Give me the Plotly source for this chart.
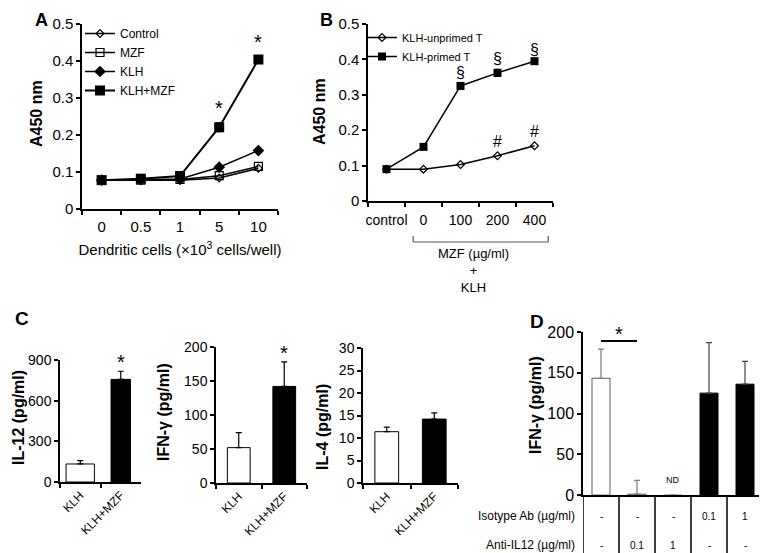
import plotly.graph_objects as go

W, H = 767, 553
OFF = 8  # page body margin offset

# ---------------- data ----------------
# Panel A
a_cells = ["0", "0.5", "1", "5", "10"]
a_control = [0.078, 0.077, 0.078, 0.084, 0.110]
a_mzf = [0.078, 0.078, 0.080, 0.090, 0.115]
a_klh = [0.078, 0.080, 0.081, 0.113, 0.158]
a_klh_err = [0.002, 0.002, 0.002, 0.004, 0.004]
a_klh_mzf = [0.078, 0.082, 0.089, 0.221, 0.404]
a_klh_mzf_err = [0.003, 0.003, 0.004, 0.012, 0.008]

# Panel B
b_cats = ["control", "0", "100", "200", "400"]
b_unprimed = [0.090, 0.090, 0.103, 0.128, 0.156]
b_primed = [0.090, 0.153, 0.325, 0.362, 0.395]
b_primed_err = [0.003, 0.003, 0.008, 0.010, 0.004]

# Panel C
c_groups = ["KLH", "KLH+MZF"]
c_il12 = [133, 757]
c_il12_err = [25, 60]
c_ifng = [52, 142]
c_ifng_err = [22, 36]
c_il4 = [11.4, 14.2]
c_il4_err = [1.0, 1.4]

# Panel D
d_pos_white = [0, 1, 2]
d_pos_black = [3, 4]
d_ifng_white = [143, 1, 0]
d_err_white = [36, 17, 0]
d_ifng_black = [125, 136]
d_err_black = [62, 28]
d_isotype = ["-", "-", "-", "0.1", "1"]
d_anti = ["-", "0.1", "1", "-", "-"]

FONT = "Liberation Sans, Arial, Helvetica, sans-serif"


def px(x):
    return (x - OFF) / W


def py(y):
    return 1 - (y - OFF) / H


fig = go.Figure()

# ---------------- Panel A ----------------
line = dict(color="black", width=1.5)
fig.add_trace(go.Scatter(x=a_cells, y=a_control, name="Control", mode="lines+markers",
                         line=line, marker=dict(symbol="diamond-open", size=6, color="black",
                                                line=dict(width=1.2)),
                         xaxis="x", yaxis="y", legend="legend"))
fig.add_trace(go.Scatter(x=a_cells, y=a_mzf, name="MZF", mode="lines+markers",
                         line=line, marker=dict(symbol="square-open", size=8, color="black",
                                                line=dict(width=1.2)),
                         xaxis="x", yaxis="y", legend="legend"))
fig.add_trace(go.Scatter(x=a_cells, y=a_klh, name="KLH", mode="lines+markers",
                         line=line, marker=dict(symbol="diamond", size=9, color="black"),
                         error_y=dict(type="data", array=a_klh_err, color="black", thickness=1.2, width=3),
                         xaxis="x", yaxis="y", legend="legend"))
fig.add_trace(go.Scatter(x=a_cells, y=a_klh_mzf, name="KLH+MZF", mode="lines+markers",
                         line=dict(color="black", width=2), marker=dict(symbol="square", size=10, color="black"),
                         error_y=dict(type="data", array=a_klh_mzf_err, color="black", thickness=1.2, width=3),
                         xaxis="x", yaxis="y", legend="legend"))

# ---------------- Panel B ----------------
fig.add_trace(go.Scatter(x=b_cats, y=b_unprimed, name="KLH-unprimed T", mode="lines+markers",
                         line=line, marker=dict(symbol="diamond-open", size=6, color="black",
                                                line=dict(width=1.2)),
                         xaxis="x2", yaxis="y2", legend="legend2"))
fig.add_trace(go.Scatter(x=b_cats, y=b_primed, name="KLH-primed T", mode="lines+markers",
                         line=line, marker=dict(symbol="square", size=8, color="black"),
                         error_y=dict(type="data", array=b_primed_err, color="black", thickness=1.2, width=3),
                         xaxis="x2", yaxis="y2", legend="legend2"))

# ---------------- Panel C ----------------
for vals, errs, xa, ya, widths in [(c_il12, c_il12_err, "x3", "y3", [0.7, 0.48]),
                                   (c_ifng, c_ifng_err, "x4", "y4", [0.5, 0.5]),
                                   (c_il4, c_il4_err, "x5", "y5", [0.5, 0.5])]:
    fig.add_trace(go.Bar(x=c_groups, y=vals, width=widths,
                         marker=dict(color=["white", "black"], line=dict(color="black", width=1)),
                         error_y=dict(type="data", array=errs, arrayminus=[0, 0], symmetric=False,
                                      color="black", thickness=1.2, width=3),
                         xaxis=xa, yaxis=ya, showlegend=False))

# ---------------- Panel D ----------------
fig.add_trace(go.Bar(x=d_pos_white, y=d_ifng_white, width=0.5,
                     marker=dict(color="white", line=dict(color="#7a7a7a", width=1.2)),
                     error_y=dict(type="data", array=d_err_white, arrayminus=[0, 0, 0], symmetric=False,
                                  color="#7a7a7a", thickness=1.2, width=3),
                     xaxis="x6", yaxis="y6", showlegend=False))
fig.add_trace(go.Bar(x=d_pos_black, y=d_ifng_black, width=0.5,
                     marker=dict(color="black", line=dict(color="black", width=1)),
                     error_y=dict(type="data", array=d_err_black, arrayminus=[0, 0], symmetric=False,
                                  color="#444444", thickness=1.2, width=3),
                     xaxis="x6", yaxis="y6", showlegend=False))

# ---------------- axes ----------------
base = dict(showline=True, linecolor="black", linewidth=1.5, ticks="outside", ticklen=4,
            tickwidth=1.5, tickcolor="black", showgrid=False, zeroline=False, automargin=False,
            tickfont=dict(size=15, color="black"))

fig.update_layout(
    xaxis=dict(base, domain=[px(82), px(278)], anchor="y", type="category", tickson="boundaries",
               range=[-0.5, 4.5], tickangle=0, ticklabelstandoff=3,
               title=dict(text="Dendritic cells (×10<sup>3</sup> cells/well)", font=dict(size=15), standoff=11)),
    yaxis=dict(base, domain=[py(209), py(24)], anchor="x", range=[0, 0.5], dtick=0.1),
    xaxis2=dict(base, domain=[px(368), px(553)], anchor="y2", type="category", tickson="boundaries",
                range=[-0.5, 4.5], tickangle=0, ticklabelstandoff=5, tickfont=dict(size=14, color="black")),
    yaxis2=dict(base, domain=[py(201), py(24)], anchor="x2", range=[0, 0.5], dtick=0.1),
    xaxis3=dict(base, domain=[px(60), px(141)], anchor="y3", type="category", tickson="boundaries",
                range=[-0.5, 1.5], tickangle=-45, tickfont=dict(size=12, color="black")),
    yaxis3=dict(base, domain=[py(482), py(360)], anchor="x3", range=[0, 900], dtick=300,
                tickfont=dict(size=14, color="black")),
    xaxis4=dict(base, domain=[px(216), px(307)], anchor="y4", type="category", tickson="boundaries",
                range=[-0.5, 1.5], tickangle=-45, tickfont=dict(size=12, color="black")),
    yaxis4=dict(base, domain=[py(483), py(347)], anchor="x4", range=[0, 200], dtick=50,
                tickfont=dict(size=14, color="black")),
    xaxis5=dict(base, domain=[px(363), px(458)], anchor="y5", type="category", tickson="boundaries",
                range=[-0.5, 1.5], tickangle=-45, tickfont=dict(size=12, color="black")),
    yaxis5=dict(base, domain=[py(483), py(348)], anchor="x5", range=[0, 30], dtick=5,
                tickfont=dict(size=14, color="black")),
    xaxis6=dict(showline=True, linecolor="black", linewidth=1.5, domain=[px(583), px(763)], anchor="y6",
                range=[-0.5, 4.5], showticklabels=False, ticks="", showgrid=False, zeroline=False,
                automargin=False),
    yaxis6=dict(base, domain=[py(495), py(332)], anchor="x6", range=[0, 200], dtick=50,
                tickfont=dict(size=16, color="black")),
)

fig.update_layout(
    width=W, height=H, margin=dict(l=0, r=0, t=0, b=0, autoexpand=False),
    paper_bgcolor="white", plot_bgcolor="white",
    font=dict(family=FONT, color="black", size=13),
    barmode="overlay",
    legend=dict(x=px(80), y=py(19), xanchor="left", yanchor="top", font=dict(size=12),
                bgcolor="rgba(0,0,0,0)", tracegroupgap=0, itemwidth=30),
    legend2=dict(x=px(362), y=py(23), xanchor="left", yanchor="top", font=dict(size=11),
                 bgcolor="rgba(0,0,0,0)", tracegroupgap=0, itemwidth=30),
)

ann = []


def pa(text, x, y, size, **kw):
    d = dict(text=text, x=px(x), y=py(y), xref="paper", yref="paper", showarrow=False,
             xanchor="center", yanchor="middle", font=dict(size=size))
    d.update(kw)
    ann.append(d)


# panel letters (A, B hug the top edge)
for t, x in [("A", 41), ("B", 326)]:
    pa(f"<b>{t}</b>", x, OFF, 18, yanchor="top")
for t, x, y in [("C", 22, 318), ("D", 537, 321)]:
    pa(f"<b>{t}</b>", x, y, 19)
# y titles
for t, x, y in [("A450 nm", 36, 113), ("A450 nm", 320, 112),
                ("IL-12 (pg/ml)", 18, 418), ("IFN-γ (pg/ml)", 163, 412),
                ("IL-4 (pg/ml)", 322, 427), ("IFN-γ (pg/ml)", 535, 405)]:
    pa(f"<b>{t}</b>", x, y, 16, textangle=-90)

# significance marks, A
for i in [3, 4]:
    ann.append(dict(text="*", x=i, y=a_klh_mzf[i] + a_klh_mzf_err[i], xref="x", yref="y",
                    xanchor="center", yanchor="bottom", showarrow=False, font=dict(size=20), yshift=2))
# B
for i in [2, 3, 4]:
    ann.append(dict(text="§", x=i, y=b_primed[i] + b_primed_err[i], xref="x2", yref="y2",
                    xanchor="center", yanchor="bottom", showarrow=False, font=dict(size=16), yshift=0))
for i in [3, 4]:
    ann.append(dict(text="#", x=i, y=b_unprimed[i], xref="x2", yref="y2",
                    xanchor="center", yanchor="bottom", showarrow=False, font=dict(size=16), yshift=4))
# C
for vals, errs, xa, ya in [(c_il12, c_il12_err, "x3", "y3"), (c_ifng, c_ifng_err, "x4", "y4")]:
    ann.append(dict(text="*", x=1, y=vals[1] + errs[1], xref=xa, yref=ya,
                    xanchor="center", yanchor="bottom", showarrow=False, font=dict(size=20), yshift=-4))

# B bracket text
ann.append(dict(text="MZF (µg/ml)<br>+<br>KLH", x=2.34, y=py(270), xref="x2", yref="paper",
                xanchor="center", yanchor="middle", showarrow=False, font=dict(size=13)))

# D extras
ann.append(dict(text="*", x=0.5, y=189, xref="x6", yref="y6", xanchor="center", yanchor="bottom",
                showarrow=False, font=dict(size=20), yshift=-6))
ann.append(dict(text="ND", x=2, y=0, xref="x6", yref="y6", xanchor="center", yanchor="bottom",
                showarrow=False, font=dict(size=9), yshift=8))
for t, y in [("Isotype Ab (µg/ml)", 516), ("Anti-IL12 (µg/ml)", 545)]:
    ann.append(dict(text=t, x=0, y=py(y), xref="x6 domain", yref="paper", xanchor="right",
                    yanchor="middle", showarrow=False, font=dict(size=12), xshift=-6))
for i in range(5):
    ann.append(dict(text=d_isotype[i], x=i, y=py(516), xref="x6", yref="paper", showarrow=False,
                    xanchor="center", yanchor="middle", font=dict(size=10)))
    ann.append(dict(text=d_anti[i], x=i, y=py(545), xref="x6", yref="paper", showarrow=False,
                    xanchor="center", yanchor="middle", font=dict(size=10)))
fig.update_layout(annotations=ann)

shapes = []
# B bracket
bc = dict(color="#555555", width=1.2)
yb, yt = py(242), py(236)
shapes.append(dict(type="line", x0=0.72, x1=4.37, y0=yb, y1=yb, xref="x2", yref="paper", line=bc))
shapes.append(dict(type="line", x0=0.72, x1=0.72, y0=yb, y1=yt, xref="x2", yref="paper", line=bc))
shapes.append(dict(type="line", x0=4.37, x1=4.37, y0=yb, y1=yt, xref="x2", yref="paper", line=bc))
# D significance line
shapes.append(dict(type="line", x0=0, x1=1, y0=189, y1=189, xref="x6", yref="y6",
                   line=dict(color="black", width=2)))
# D table vertical lines
for b in [-0.5, 0.5, 1.5, 2.5, 3.5, 4.5]:
    shapes.append(dict(type="line", x0=b, x1=b, y0=0, y1=py(495), xref="x6", yref="paper",
                       line=dict(color="black", width=1.5)))
fig.update_layout(shapes=shapes)

fig.write_html("out.html")
